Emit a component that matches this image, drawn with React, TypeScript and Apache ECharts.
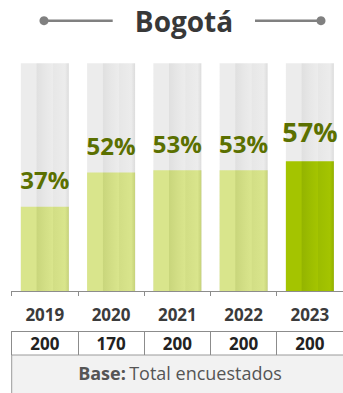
import React, { useEffect, useRef } from "react";
import * as echarts from "echarts";

const years = ["2019", "2020", "2021", "2022", "2023"];
const values = [37, 52, 53, 53, 57];
const bases = ["200", "170", "200", "200", "200"];
const fullScale = [100, 100, 100, 100, 100];
const titleText = "Bogotá";
const baseNote = "Total encuestados";

const FONT = "Open Sans";

function stripe(c1: string, c2: string, c3: string, edge: string) {
  return new echarts.graphic.LinearGradient(0, 0, 1, 0, [
    { offset: 0, color: c1 },
    { offset: 0.32, color: c1 },
    { offset: 0.335, color: c2 },
    { offset: 0.5, color: c3 },
    { offset: 0.66, color: c1 },
    { offset: 0.675, color: c3 },
    { offset: 0.92, color: c1 },
    { offset: 1, color: edge },
  ]);
}

export default function App() {
  const ref = useRef<HTMLDivElement>(null);
  useEffect(() => {
    if (!ref.current) return;
    const chart = echarts.init(ref.current, undefined, { renderer: "svg" });
    const light = stripe("#d9e58c", "#c9d67c", "#d2de85", "#c6d279");
    const strong = stripe("#a4c400", "#94b400", "#9cbd00", "#92b000");
    const gray = stripe("#ececec", "#e0e0e0", "#e7e7e7", "#dcdcdc");
    const last = values.length - 1;
    chart.setOption({
      animation: false,
      grid: { left: 11.7, width: 336.7, top: 63.3, height: 227.7 },
      xAxis: [
        {
          type: "category",
          data: years,
          axisLine: { show: true, lineStyle: { color: "#8c8c8c", width: 1 } },
          axisTick: { show: true, length: 5, lineStyle: { color: "#8c8c8c" } },
          axisLabel: {
            margin: 15,
            color: "#3b3b3b",
            fontFamily: FONT,
            fontWeight: "bold",
            fontSize: 17,
          },
        },
        {
          type: "category",
          data: bases,
          position: "bottom",
          offset: 40,
          axisLine: { show: true, lineStyle: { color: "#8c8c8c", width: 1 } },
          axisTick: { show: true, length: 24, lineStyle: { color: "#8c8c8c" } },
          axisLabel: {
            margin: 3.5,
            color: "#222222",
            fontFamily: FONT,
            fontWeight: "bold",
            fontSize: 17,
          },
        },
      ],
      yAxis: { type: "value", min: 0, max: 100, show: false },
      series: [
        {
          type: "bar",
          data: fullScale,
          barWidth: 48,
          barGap: "-100%",
          itemStyle: { color: gray },
          silent: true,
          z: 1,
        },
        {
          type: "bar",
          data: values.map((v, i) => ({
            value: v,
            itemStyle: { color: i === last ? strong : light },
            label:
              i === last
                ? { fontSize: 27, distance: 16 }
                : undefined,
          })),
          barWidth: 48,
          z: 2,
          label: {
            show: true,
            position: "top",
            distance: 15,
            formatter: "{c}%",
            color: "#5b7000",
            fontFamily: FONT,
            fontWeight: "bold",
            fontSize: 24,
          },
        },
      ],
      graphic: [
        {
          type: "line",
          shape: { x1: 44, y1: 20.7, x2: 112.7, y2: 20.7 },
          style: { stroke: "#808080", lineWidth: 2.5 },
        },
        {
          type: "circle",
          shape: { cx: 44, cy: 20.7, r: 4.5 },
          style: { fill: "#808080" },
        },
        {
          type: "line",
          shape: { x1: 255, y1: 20.7, x2: 321, y2: 20.7 },
          style: { stroke: "#808080", lineWidth: 2.5 },
        },
        {
          type: "circle",
          shape: { cx: 321, cy: 20.7, r: 4.5 },
          style: { fill: "#808080" },
        },
        {
          type: "text",
          x: 184,
          y: 21,
          style: {
            text: titleText,
            fill: "#383838",
            font: `bold 28px "${FONT}"`,
            align: "center",
            verticalAlign: "middle",
          },
        },
        {
          type: "rect",
          shape: { x: 11.7, y: 355, width: 345, height: 50 },
          style: { fill: "#f2f2f2", stroke: "#9a9a9a", lineWidth: 1 },
          z: -1,
        },
        {
          type: "text",
          x: 180,
          y: 373,
          style: {
            text: `{b|Base:} {r|${baseNote}}`,
            align: "center",
            verticalAlign: "middle",
            rich: {
              b: { fontFamily: FONT, fontWeight: "bold", fontSize: 18, fill: "#555555" },
              r: { fontFamily: FONT, fontWeight: "normal", fontSize: 18, fill: "#555555" },
            },
          },
        },
      ],
    });
    return () => chart.dispose();
  }, []);
  return (
    <div
      ref={ref}
      style={{ position: "absolute", left: 0, top: 0, width: 343, height: 393 }}
    />
  );
}
